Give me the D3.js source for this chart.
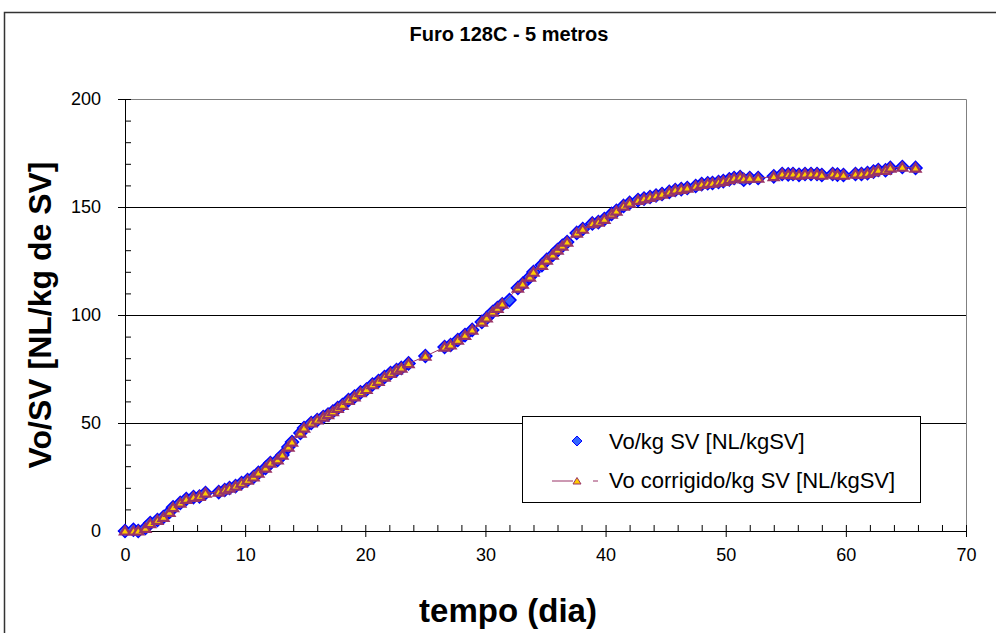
<!DOCTYPE html>
<html>
<head>
<meta charset="utf-8">
<script src="https://cdn.jsdelivr.net/npm/d3@7"></script>
<style>
body { margin: 0; background: #fff; }
text { font-family: "Liberation Sans", Arial, sans-serif; fill: #000; }
</style>
</head>
<body>
<div class="chart"></div>
<script>
var margin = {top: 99, right: 30, bottom: 102, left: 125};
var width = 996 - margin.left - margin.right;
var height = 633 - margin.top - margin.bottom;

var titulo = 'Furo 128C - 5 metros';
var serieNomes = ['Vo/kg SV [NL/kgSV]', 'Vo corrigido/kg SV [NL/kgSV]'];

// tempo (dia)
var dias = [
  0, 0.7, 1.1, 1.7, 2.1, 2.7, 3.2, 3.7, 4.0, 4.6, 5.1, 5.7, 6.2, 6.7, 7.8, 8.3,
  8.7, 9.2, 9.7, 10.2, 10.7, 11.1, 11.7, 12.1, 12.7, 13.1, 13.6, 13.9, 14.6, 14.9,
  15.5, 16.0, 16.5, 16.9, 17.3, 17.7, 18.1, 18.6, 19.1, 19.6, 20.1, 20.6, 21.1,
  21.6, 22.1, 22.6, 23.0, 23.6, 25.0, 26.6, 27.1, 27.7, 28.3, 28.9, 29.7, 30.1,
  30.6, 31.0, 31.4, 32.0, 32.7, 33.1, 33.7, 34.0, 34.7, 35.1, 35.6, 36.0, 36.4,
  36.8, 37.6, 38.1, 38.9, 39.4, 39.9, 40.5, 40.9, 41.5, 42.0, 42.7, 43.2, 43.7,
  44.2, 44.7, 45.3, 45.8, 46.3, 46.8, 47.5, 48.0, 48.5, 48.9, 49.4, 49.8, 50.3,
  50.7, 51.2, 51.5, 52.0, 52.7, 54.0, 54.7, 55.2, 55.6, 56.1, 56.6, 57.1, 57.6,
  58.0, 58.9, 59.3, 59.8, 60.8, 61.3, 61.8, 62.3, 62.7, 63.3, 63.7, 64.7, 65.8
];

// Vo/kg SV [NL/kgSV]
var vo = [
  0, 0.6, 0, 1.4, 3.7, 5.1, 6.5, 8.8, 11.0, 13.0, 14.8, 15.7, 16.0, 17.6, 18.0, 19.0,
  19.9, 20.8, 22.2, 23.6, 25.0, 26.9, 29.2, 31.5, 32.9, 35.2, 38.9, 41.2, 45.4, 47.7,
  50.0, 51.4, 52.8, 53.9, 55.3, 56.9, 58.3, 60.6, 62.2, 64.2, 65.5, 67.8, 69.4,
  71.3, 73.1, 74.5, 75.5, 77.6, 81.0, 85.2, 86.1, 88.4, 90.7, 93.1, 96.8, 98.6,
  101.4, 103.2, 105.0, 106.9, 112.5, 114.4, 117.6, 119.9, 123.1, 125.5, 127.8, 130.1, 132.0,
  133.8, 138.0, 139.8, 142.4, 143.0, 144.4, 146.8, 148.2, 150.5, 151.9, 153.2, 153.9, 154.6,
  155.3, 156.0, 157.0, 157.9, 158.3, 158.8, 159.7, 160.6, 161.0, 161.1, 161.6, 162.0, 162.8,
  163.4, 163.9, 162.6, 163.4, 163.4, 164.2, 165.3, 165.1, 165.3, 164.9, 165.3, 165.3, 165.3,
  164.8, 165.3, 165.0, 164.8, 165.3, 165.3, 165.7, 166.4, 167.1, 167.0, 168.1, 168.5, 168.1
];

// Vo corrigido/kg SV [NL/kgSV]
var voCorr = [
  0, 0, 0, 1.2, 3.4, 4.9, 6.3, 8.6, 10.8, 12.9, 14.6, 15.6, 16.0, 17.5, 18.0, 19.0,
  19.8, 20.8, 22.1, 23.5, 25.0, 26.8, 29.1, 31.4, 32.9, 35.1, 38.8, 41.1, 45.3, 47.6,
  50.0, 51.4, 52.7, 53.9, 55.2, 56.8, 58.2, 60.5, 62.1, 64.1, 65.5, 67.7, 69.3,
  71.2, 73.0, 74.5, 75.4, 77.5, 80.9, 85.1, 86.1, 88.3, 90.6, 93.0, 96.7, 98.6,
  101.3, 103.1, 105.0, null, 112.4, 114.3, 117.5, 119.8, 123.0, 125.4, 127.7, 130.0, 131.9,
  133.7, 137.9, 139.7, 142.3, 143.0, 144.3, 146.7, 148.1, 150.4, 151.8, 153.1, 153.8, 154.5,
  155.2, 155.9, 156.9, 157.8, 158.2, 158.7, 159.6, 160.5, 160.9, 161.0, 161.5, 161.9, 162.7,
  163.3, 163.8, 163.0, 163.3, 163.3, 164.1, 165.2, 165.0, 165.2, 164.8, 165.2, 165.2, 165.2,
  164.7, 165.2, 164.9, 164.7, 165.2, 165.2, 165.6, 166.3, 167.0, 166.9, 168.0, 168.4, 168.0
];

var xTicks = [0, 10, 20, 30, 40, 50, 60, 70];
var yTicks = [0, 50, 100, 150, 200];

var serie1 = dias.map((d, i) => ({x: d, v: vo[i]}));
var serie2 = dias.map((d, i) => ({x: d, v: voCorr[i]})).filter(d => d.v != null);

var xScale = d3.scaleLinear().domain([0, 70]).range([0, width]);
var yScale = d3.scaleLinear().domain([0, 200]).range([height, 0]);

var root = d3.select('div.chart').append('svg')
    .attr('width', 996)
    .attr('height', 633);

root.append('rect')
    .attr('width', 996).attr('height', 633)
    .attr('fill', '#fff');

// moldura do gráfico
root.append('rect')
    .attr('x', 4.5).attr('y', 12.5)
    .attr('width', 1000).attr('height', 700)
    .attr('fill', 'none')
    .attr('stroke', '#333')
    .attr('stroke-width', 1.5);

root.append('text')
    .attr('x', 509).attr('y', 41)
    .attr('text-anchor', 'middle')
    .attr('font-weight', 'bold')
    .attr('font-size', 20)
    .text(titulo);

var svg = root.append('g')
    .attr('transform', 'translate(' + margin.left + ',' + margin.top + ')');

// grelha
svg.selectAll('line.grid')
  .data(yTicks.filter(d => d > 0 && d < 200)).enter().append('line')
    .attr('class', 'grid')
    .attr('x1', 0).attr('x2', width)
    .attr('y1', d => yScale(d) + 0.5).attr('y2', d => yScale(d) + 0.5)
    .attr('stroke', '#000');

svg.append('path')
    .attr('d', 'M0,0.5H' + (width + 0.5) + 'V' + height)
    .attr('fill', 'none')
    .attr('stroke', '#808080');

// eixos: traços menores para dentro, maiores cruzando
svg.append('g')
    .attr('transform', 'translate(0,' + height + ')')
    .call(d3.axisBottom(xScale).tickValues(d3.range(0, 71, 2))
          .tickSize(-6).tickSizeOuter(0).tickFormat(''));
svg.append('g')
    .attr('class', 'x axis')
    .attr('transform', 'translate(0,' + height + ')')
    .call(d3.axisBottom(xScale).tickValues(xTicks)
          .tickSize(6).tickSizeOuter(0).tickPadding(11));

svg.append('g')
    .call(d3.axisLeft(yScale).tickValues(d3.range(0, 201, 10))
          .tickSize(-6).tickSizeOuter(0).tickFormat(''));
svg.append('g')
    .attr('class', 'y axis')
    .call(d3.axisLeft(yScale).tickValues(yTicks)
          .tickSize(7).tickSizeOuter(0).tickPadding(17));

svg.selectAll('.domain').attr('stroke', '#000');
svg.selectAll('.tick line').attr('stroke', '#000');
svg.selectAll('.axis text')
    .attr('font-family', '"Liberation Sans", Arial, sans-serif')
    .attr('font-size', 18)
    .attr('fill', '#000');

var diamond = 'M0,-6.5L6.5,0L0,6.5L-6.5,0Z';
var triangle = 'M0,-4.5L5,3.5L-5,3.5Z';

svg.selectAll('path.s1')
  .data(serie1).enter().append('path')
    .attr('class', 's1')
    .attr('d', diamond)
    .attr('transform', d => 'translate(' + xScale(d.x) + ',' + yScale(d.v) + ')')
    .attr('fill', '#3366ff')
    .attr('stroke', '#0000ff')
    .attr('stroke-width', 1.5);

svg.append('path')
    .datum(serie2)
    .attr('d', d3.line().x(d => xScale(d.x)).y(d => yScale(d.v)))
    .attr('fill', 'none')
    .attr('stroke', '#993366')
    .attr('stroke-width', 1);

svg.selectAll('path.s2')
  .data(serie2).enter().append('path')
    .attr('class', 's2')
    .attr('d', triangle)
    .attr('transform', d => 'translate(' + xScale(d.x) + ',' + yScale(d.v) + ')')
    .attr('fill', '#ffcc00')
    .attr('stroke', '#993366')
    .attr('stroke-width', 2.2);

svg.append('text')
    .attr('transform', 'translate(' + (508 - margin.left) + ',' + (height + 91) + ')')
    .attr('text-anchor', 'middle')
    .attr('font-weight', 'bold')
    .attr('font-size', 33)
    .text('tempo (dia)');

svg.append('text')
    .attr('transform', 'translate(' + (51 - margin.left) + ',' + (315 - margin.top) + ') rotate(-90)')
    .attr('text-anchor', 'middle')
    .attr('font-weight', 'bold')
    .attr('font-size', 32)
    .text('Vo/SV [NL/kg de SV]');

// legenda
var legend = root.append('g').attr('transform', 'translate(522,416)');
legend.append('rect')
    .attr('x', 0.5).attr('y', 0.5)
    .attr('width', 398).attr('height', 86)
    .attr('fill', '#fff')
    .attr('stroke', '#000');
legend.append('path')
    .attr('d', 'M0,-5L5,0L0,5L-5,0Z')
    .attr('transform', 'translate(55,25)')
    .attr('fill', '#3366ff')
    .attr('stroke', '#0000ff');
legend.append('text')
    .attr('x', 87).attr('y', 25)
    .attr('dy', '0.35em')
    .attr('font-size', 22)
    .text(serieNomes[0]);
legend.append('path')
    .attr('d', 'M30,65H51M71,65H76')
    .attr('stroke', '#993366');
legend.append('path')
    .attr('d', 'M0,-3.5L4,3L-4,3Z')
    .attr('transform', 'translate(55,65)')
    .attr('fill', '#ffcc00')
    .attr('stroke', '#993366');
legend.append('text')
    .attr('x', 87).attr('y', 64)
    .attr('dy', '0.35em')
    .attr('font-size', 22)
    .text(serieNomes[1]);
</script>
</body>
</html>
